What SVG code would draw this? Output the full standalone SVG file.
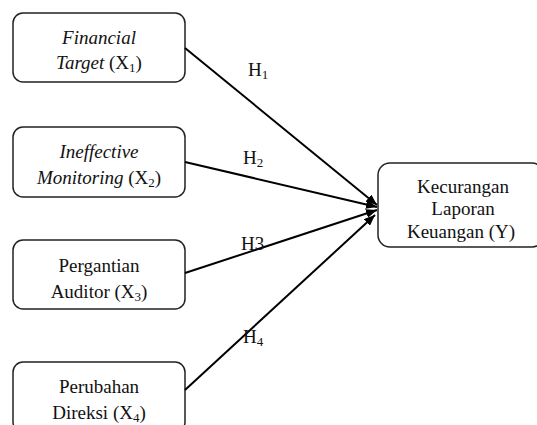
<svg xmlns="http://www.w3.org/2000/svg" width="537" height="425" viewBox="0 0 537 425">
<defs>
<marker id="ah" markerWidth="11" markerHeight="9" refX="11" refY="4.5" orient="auto" markerUnits="userSpaceOnUse">
<path d="M0,0 L11,4.5 L0,9 z" fill="#000"/>
</marker>
<style>
.box{fill:#fff;stroke:#222;stroke-width:1.5}
.t{font-size:19px;fill:#111;text-anchor:middle}
.i{font-style:italic}
.s{font-size:13px}
.c{stroke:#000;stroke-width:2;fill:none;marker-end:url(#ah)}
.h{font-size:19px;fill:#111}
</style>
</defs>
<rect width="537" height="425" fill="#fff"/>
<g font-family="Liberation Serif, Tinos, DejaVu Serif, Noto Serif, FreeSerif, Times, serif">
<g id="x1">
<rect class="box" x="13" y="13" width="172" height="69" rx="10"/>
<text class="t" x="99" y="44"><tspan class="i">Financial</tspan></text>
<text class="t" x="99" y="69"><tspan class="i">Target</tspan> (X<tspan class="s" dy="3">1</tspan><tspan dy="-3">)</tspan></text>
</g>
<g id="x2">
<rect class="box" x="13" y="127" width="172" height="70" rx="10"/>
<text class="t" x="99" y="158"><tspan class="i">Ineffective</tspan></text>
<text class="t" x="99" y="184"><tspan class="i">Monitoring</tspan> (X<tspan class="s" dy="3">2</tspan><tspan dy="-3">)</tspan></text>
</g>
<g id="x3">
<rect class="box" x="13" y="240" width="172" height="69" rx="10"/>
<text class="t" x="99" y="272">Pergantian</text>
<text class="t" x="99" y="298">Auditor (X<tspan class="s" dy="3">3</tspan><tspan dy="-3">)</tspan></text>
</g>
<g id="x4">
<rect class="box" x="13" y="362" width="172" height="70" rx="10"/>
<text class="t" x="99" y="393">Perubahan</text>
<text class="t" x="99" y="419">Direksi (X<tspan class="s" dy="3">4</tspan><tspan dy="-3">)</tspan></text>
</g>
<g id="y">
<rect class="box" x="378" y="163" width="166" height="84" rx="12"/>
<text class="t" x="463" y="193">Kecurangan</text>
<text class="t" x="463" y="215">Laporan</text>
<text class="t" x="461" y="238">Keuangan (Y)</text>
</g>
<g id="connectors">
<line class="c" x1="185" y1="48" x2="377" y2="205"/>
<line class="c" x1="185" y1="162" x2="377" y2="207"/>
<line class="c" x1="185" y1="273" x2="377" y2="210"/>
<line class="c" x1="185" y1="390" x2="375" y2="215"/>
<text class="h" x="248" y="76">H<tspan class="s" dy="3">1</tspan></text>
<text class="h" x="243" y="164">H<tspan class="s" dy="3">2</tspan></text>
<text class="h" x="241" y="250">H3</text>
<text class="h" x="243" y="343">H<tspan class="s" dy="3">4</tspan></text>
</g>
</g>
</svg>
